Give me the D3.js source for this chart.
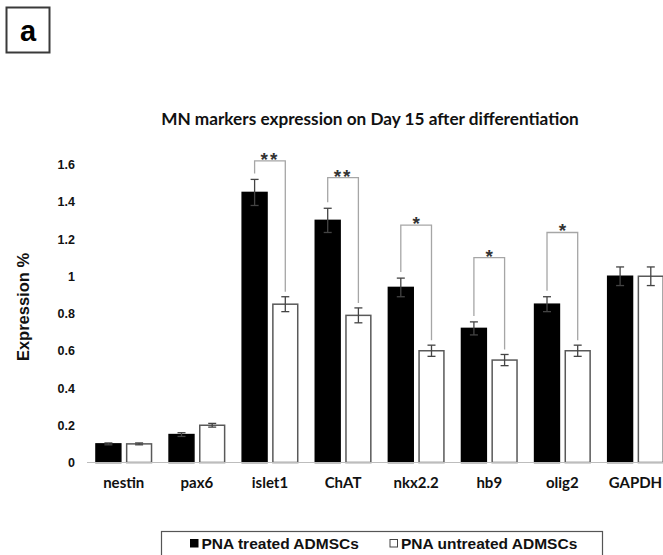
<!DOCTYPE html>
<html>
<head>
<meta charset="utf-8">
<script src="https://cdn.jsdelivr.net/npm/d3@7"></script>
<style>
  html, body { margin: 0; padding: 0; background: #fff; }
  svg { display: block; }
</style>
</head>
<body>
<svg id="chart" width="663" height="555"></svg>
<script>
// ---- data ----
const categories = ["nestin", "pax6", "islet1", "ChAT", "nkx2.2", "hb9", "olig2", "GAPDH"];
const seriesNames = ["PNA treated ADMSCs", "PNA untreated ADMSCs"];
const treated = [0.10, 0.15, 1.45, 1.30, 0.94, 0.72, 0.85, 1.00];
const untreated = [0.10, 0.20, 0.85, 0.79, 0.60, 0.55, 0.60, 1.00];
const treatedErr = [0.005, 0.01, 0.07, 0.065, 0.05, 0.035, 0.04, 0.05];
const untreatedErr = [0.005, 0.01, 0.04, 0.04, 0.03, 0.03, 0.03, 0.05];
const sigCategories = ["islet1", "ChAT", "nkx2.2", "hb9", "olig2"];
const sigLabels = ["**", "**", "*", "*", "*"];
const sigHeights = [1.62, 1.53, 1.275, 1.10, 1.235];
const yTicks = [0, 0.2, 0.4, 0.6, 0.8, 1, 1.2, 1.4, 1.6];
const yTickLabels = ["0", "0.2", "0.4", "0.6", "0.8", "1", "1.2", "1.4", "1.6"];
const titleText = "MN markers expression on Day 15 after differentiation";
const yTitle = "Expression %";
const panelLabel = "a";

// ---- layout ----
const svg = d3.select("#chart");
const x0 = d3.scaleBand().domain(categories).range([87.2, 672]).paddingInner(0.24).paddingOuter(0.12);
const x1 = d3.scaleBand().domain(seriesNames).range([0, x0.bandwidth()]).paddingInner(0.19);
const y = d3.scaleLinear().domain([0, 1.6]).range([462.5, 164.5]);

const rows = categories.map((c, i) => ({
  cat: c,
  vals: [
    { s: seriesNames[0], v: treated[i], e: treatedErr[i] },
    { s: seriesNames[1], v: untreated[i], e: untreatedErr[i] }
  ]
}));

// panel label
svg.append("rect").attr("x", 6.5).attr("y", 7.5).attr("width", 43).attr("height", 45)
  .attr("fill", "#fff").attr("stroke", "#3a3a3a").attr("stroke-width", 2);
svg.append("text").attr("x", 28).attr("y", 41).attr("text-anchor", "middle")
  .attr("font-family", "Liberation Sans, Arial, sans-serif").attr("font-weight", "bold")
  .attr("font-size", 29).attr("fill", "#000").text(panelLabel);

// title
svg.append("text").attr("x", 370).attr("y", 124.5).attr("text-anchor", "middle")
  .attr("font-family", "Lato, Carlito, Calibri, sans-serif").attr("font-weight", "bold")
  .attr("font-size", 17.2).attr("fill", "#111").text(titleText);

// y axis (labels only)
const yAxis = d3.axisLeft(y).tickValues(yTicks).tickSize(0).tickPadding(0)
  .tickFormat((d, i) => yTickLabels[i]);
const gy = svg.append("g").attr("transform", "translate(75,0)").call(yAxis);
gy.select(".domain").remove();
gy.selectAll("text").attr("font-family", "Liberation Sans, Arial, sans-serif")
  .attr("font-weight", "bold").attr("font-size", 12.5).attr("fill", "#111");

// y title
svg.append("text").attr("transform", "translate(29,307) rotate(-90)").attr("text-anchor", "middle")
  .attr("font-family", "Liberation Sans, Arial, sans-serif").attr("font-weight", "bold")
  .attr("font-size", 16.5).attr("fill", "#111").text(yTitle);

// bars
const groups = svg.append("g").selectAll("g").data(rows).join("g")
  .attr("transform", d => `translate(${x0(d.cat)},0)`);

groups.selectAll("rect").data(d => d.vals).join("rect")
  .attr("x", d => x1(d.s))
  .attr("y", d => y(d.v))
  .attr("width", x1.bandwidth())
  .attr("height", d => y(0) - y(d.v))
  .attr("fill", (d, i) => i === 0 ? "#000" : "#fff")
  .attr("stroke", (d, i) => i === 0 ? "#000" : "#595959")
  .attr("stroke-width", 1.5);

// error bars
const eb = groups.selectAll("g.err").data(d => d.vals).join("g").attr("class", "err")
  .attr("stroke", "#444").attr("stroke-width", 1.3);
eb.append("line")
  .attr("x1", d => x1(d.s) + x1.bandwidth() / 2).attr("x2", d => x1(d.s) + x1.bandwidth() / 2)
  .attr("y1", d => y(d.v + d.e)).attr("y2", d => y(d.v - d.e));
eb.append("line")
  .attr("x1", d => x1(d.s) + x1.bandwidth() / 2 - 4).attr("x2", d => x1(d.s) + x1.bandwidth() / 2 + 4)
  .attr("y1", d => y(d.v + d.e)).attr("y2", d => y(d.v + d.e));
eb.append("line")
  .attr("x1", d => x1(d.s) + x1.bandwidth() / 2 - 4).attr("x2", d => x1(d.s) + x1.bandwidth() / 2 + 4)
  .attr("y1", d => y(d.v - d.e)).attr("y2", d => y(d.v - d.e));

// x axis
const xAxis = d3.axisBottom(x0).tickSize(0).tickPadding(0);
const gx = svg.append("g").attr("transform", `translate(0,${y(0)})`).call(xAxis);
gx.select(".domain").remove();
svg.append("line").attr("x1", 87).attr("x2", 663).attr("y1", y(0)).attr("y2", y(0))
  .attr("stroke", "#bdbdbd").attr("stroke-width", 1);
gx.selectAll("text").attr("dy", 0).attr("y", 25.5)
  .attr("font-family", "Lato, Carlito, Calibri, sans-serif").attr("font-weight", "bold")
  .attr("font-size", 15).attr("fill", "#111");

// significance brackets
sigCategories.forEach((c, i) => {
  const idx = categories.indexOf(c);
  const xa = x0(c) + x1(seriesNames[0]) + x1.bandwidth() / 2;
  const xb = x0(c) + x1(seriesNames[1]) + x1.bandwidth() / 2;
  const yt = y(sigHeights[i]);
  const ya = y(treated[idx] + treatedErr[idx]) - 6;
  const yb = y(untreated[idx] + untreatedErr[idx]) - 5;
  svg.append("path")
    .attr("d", `M${xa},${ya}V${yt}H${xb}V${yb}`)
    .attr("fill", "none").attr("stroke", "#a6a6a6").attr("stroke-width", 1.3);
  svg.append("text").attr("x", (xa + xb) / 2).attr("y", yt + 5).attr("text-anchor", "middle")
    .attr("font-family", "Liberation Sans, Arial, sans-serif").attr("font-size", 19)
    .attr("font-weight", "bold")
    .attr("letter-spacing", sigLabels[i].length > 1 ? 2 : 0)
    .attr("fill", "#333").text(sigLabels[i]);
});

// legend
svg.append("rect").attr("x", 161.5).attr("y", 531.5).attr("width", 441).attr("height", 40)
  .attr("fill", "#fff").attr("stroke", "#555").attr("stroke-width", 1.2);
const legX = [190, 389.5];
seriesNames.forEach((s, i) => {
  svg.append("rect").attr("x", legX[i] + 0.5).attr("y", 539.5).attr("width", 7.5).attr("height", 7.5)
    .attr("fill", i === 0 ? "#000" : "#fff").attr("stroke", i === 0 ? "#000" : "#444").attr("stroke-width", 1);
  svg.append("text").attr("x", legX[i] + 11.5).attr("y", 548.5)
    .attr("font-family", "Liberation Sans, Arial, sans-serif").attr("font-weight", "bold")
    .attr("font-size", 15.5).attr("fill", "#111").text(s);
});
</script>
</body>
</html>
